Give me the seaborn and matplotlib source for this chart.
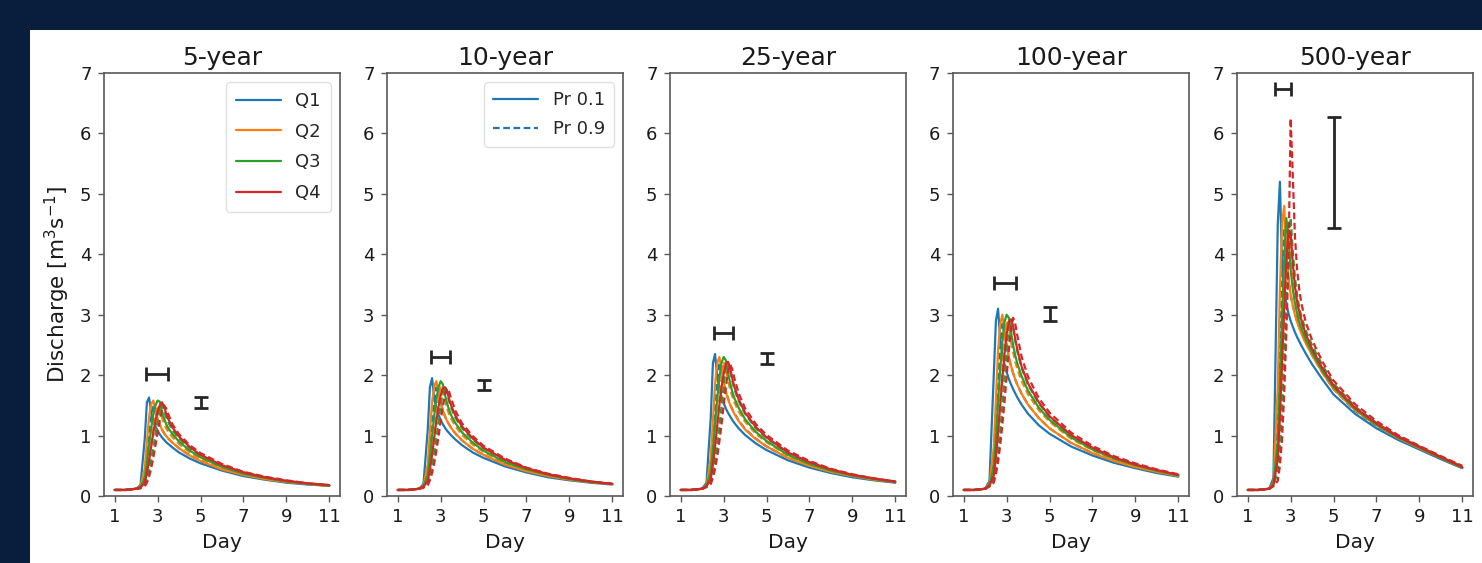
import numpy as np
import pandas as pd
import matplotlib
matplotlib.use("Agg")
import matplotlib.pyplot as plt
from matplotlib.lines import Line2D
from matplotlib.patches import Rectangle
import seaborn as sns

# ---------------------------------------------------------------- data
days = [1.0, 1.5, 2.0, 2.2, 2.4, 2.5, 2.6, 2.7, 2.8, 2.9, 3.0, 3.1, 3.2,
        3.3, 3.4, 3.5, 3.7, 4.0, 4.5, 5.0, 6.0, 7.0, 8.0, 9.0, 10.0, 11.0]

return_periods = ["5-year", "10-year", "25-year", "100-year", "500-year"]
quartiles = ["Q1", "Q2", "Q3", "Q4"]
probabilities = ["Pr 0.1", "Pr 0.9"]

# 5-year event
y5_q1_p1 = [.10, .10, .12, .18, .95, 1.55, 1.63, 1.38, 1.24, 1.15, 1.08, 1.02, .97, .93, .89, .86, .80, .72, .62, .54, .42, .33, .27, .22, .19, .17]
y5_q1_p9 = [.10, .10, .12, .14, .40, .75, 1.05, 1.30, 1.48, 1.40, 1.28, 1.18, 1.10, 1.04, .99, .95, .88, .79, .67, .58, .44, .35, .28, .23, .20, .17]
y5_q2_p1 = [.10, .10, .12, .16, .45, .90, 1.30, 1.52, 1.58, 1.42, 1.28, 1.18, 1.10, 1.04, .99, .95, .88, .79, .67, .58, .44, .35, .28, .23, .20, .17]
y5_q2_p9 = [.10, .10, .12, .13, .22, .40, .62, .88, 1.12, 1.35, 1.50, 1.42, 1.30, 1.20, 1.12, 1.06, .97, .86, .72, .62, .47, .37, .30, .24, .20, .17]
y5_q3_p1 = [.10, .10, .12, .15, .30, .55, .85, 1.12, 1.35, 1.50, 1.58, 1.56, 1.40, 1.28, 1.19, 1.12, 1.02, .90, .75, .64, .48, .37, .30, .24, .20, .17]
y5_q3_p9 = [.10, .10, .12, .13, .18, .28, .42, .60, .80, 1.02, 1.25, 1.45, 1.52, 1.42, 1.30, 1.22, 1.08, .95, .79, .67, .50, .39, .31, .25, .21, .18]
y5_q4_p1 = [.10, .10, .12, .14, .22, .38, .58, .82, 1.05, 1.25, 1.40, 1.50, 1.55, 1.48, 1.36, 1.27, 1.13, .98, .81, .68, .51, .39, .31, .25, .21, .18]
y5_q4_p9 = [.10, .10, .12, .13, .16, .22, .32, .46, .64, .84, 1.05, 1.25, 1.42, 1.50, 1.45, 1.35, 1.18, 1.02, .84, .71, .53, .40, .32, .26, .21, .18]

# 10-year event
y10_q1_p1 = [.10, .10, .12, .20, 1.10, 1.80, 1.95, 1.62, 1.45, 1.34, 1.26, 1.19, 1.13, 1.08, 1.04, 1.00, .93, .84, .72, .63, .49, .39, .31, .26, .22, .19]
y10_q1_p9 = [.10, .10, .12, .15, .45, .88, 1.25, 1.55, 1.80, 1.70, 1.54, 1.42, 1.32, 1.24, 1.18, 1.12, 1.03, .92, .78, .68, .52, .41, .33, .27, .23, .20]
y10_q2_p1 = [.10, .10, .12, .17, .52, 1.05, 1.55, 1.82, 1.90, 1.72, 1.54, 1.42, 1.32, 1.24, 1.18, 1.12, 1.03, .92, .78, .68, .52, .41, .33, .27, .23, .20]
y10_q2_p9 = [.10, .10, .12, .14, .25, .46, .72, 1.02, 1.32, 1.60, 1.82, 1.72, 1.57, 1.45, 1.35, 1.27, 1.15, 1.01, .85, .73, .55, .43, .34, .28, .23, .20]
y10_q3_p1 = [.10, .10, .12, .16, .35, .64, 1.00, 1.32, 1.60, 1.80, 1.90, 1.85, 1.68, 1.53, 1.42, 1.33, 1.20, 1.05, .88, .75, .56, .44, .35, .28, .23, .20]
y10_q3_p9 = [.10, .10, .12, .14, .20, .32, .49, .70, .95, 1.22, 1.50, 1.72, 1.82, 1.70, 1.56, 1.45, 1.29, 1.12, .93, .79, .59, .46, .36, .29, .24, .20]
y10_q4_p1 = [.10, .10, .12, .15, .25, .44, .68, .96, 1.24, 1.48, 1.66, 1.78, 1.80, 1.74, 1.60, 1.49, 1.32, 1.15, .95, .80, .60, .46, .36, .29, .24, .20]
y10_q4_p9 = [.10, .10, .12, .14, .18, .26, .38, .54, .75, .98, 1.24, 1.48, 1.68, 1.78, 1.72, 1.60, 1.40, 1.20, .99, .83, .62, .47, .37, .30, .24, .20]

# 25-year event
y25_q1_p1 = [.10, .10, .12, .22, 1.30, 2.20, 2.35, 1.98, 1.78, 1.64, 1.54, 1.45, 1.38, 1.32, 1.26, 1.21, 1.12, 1.01, .87, .76, .59, .47, .38, .31, .26, .22]
y25_q1_p9 = [.10, .10, .12, .16, .55, 1.05, 1.50, 1.88, 2.20, 2.08, 1.88, 1.74, 1.62, 1.52, 1.44, 1.37, 1.25, 1.11, .95, .82, .63, .50, .40, .33, .27, .23]
y25_q2_p1 = [.10, .10, .12, .18, .62, 1.25, 1.85, 2.20, 2.30, 2.10, 1.88, 1.73, 1.61, 1.51, 1.43, 1.36, 1.24, 1.10, .94, .82, .63, .50, .40, .33, .27, .23]
y25_q2_p9 = [.10, .10, .12, .15, .28, .54, .86, 1.22, 1.60, 1.95, 2.22, 2.10, 1.92, 1.77, 1.65, 1.55, 1.40, 1.23, 1.03, .89, .67, .53, .42, .34, .28, .23]
y25_q3_p1 = [.10, .10, .12, .17, .40, .76, 1.20, 1.60, 1.95, 2.20, 2.30, 2.25, 2.05, 1.87, 1.73, 1.62, 1.46, 1.27, 1.06, .91, .68, .53, .42, .34, .28, .23]
y25_q3_p9 = [.10, .10, .12, .15, .22, .37, .58, .84, 1.14, 1.48, 1.82, 2.10, 2.22, 2.08, 1.91, 1.77, 1.57, 1.36, 1.12, .96, .71, .55, .43, .35, .29, .24]
y25_q4_p1 = [.10, .10, .12, .16, .28, .52, .82, 1.16, 1.50, 1.80, 2.02, 2.18, 2.22, 2.12, 1.95, 1.81, 1.60, 1.38, 1.14, .97, .72, .56, .44, .35, .29, .24]
y25_q4_p9 = [.10, .10, .12, .15, .20, .30, .45, .65, .90, 1.18, 1.50, 1.80, 2.05, 2.18, 2.10, 1.95, 1.70, 1.45, 1.19, 1.01, .75, .58, .45, .36, .29, .24]

# 100-year event
y100_q1_p1 = [.10, .10, .12, .25, 2.00, 2.90, 3.10, 2.60, 2.35, 2.18, 2.05, 1.94, 1.85, 1.77, 1.70, 1.63, 1.51, 1.36, 1.17, 1.03, .82, .67, .55, .46, .38, .32]
y100_q1_p9 = [.10, .10, .12, .18, .70, 1.35, 1.95, 2.45, 2.85, 2.70, 2.48, 2.30, 2.15, 2.03, 1.93, 1.84, 1.69, 1.51, 1.29, 1.12, .88, .71, .58, .48, .40, .33]
y100_q2_p1 = [.10, .10, .12, .20, .80, 1.60, 2.40, 2.85, 3.00, 2.75, 2.50, 2.31, 2.16, 2.04, 1.93, 1.84, 1.69, 1.51, 1.29, 1.12, .88, .71, .58, .48, .40, .33]
y100_q2_p9 = [.10, .10, .12, .16, .35, .68, 1.10, 1.58, 2.08, 2.55, 2.90, 2.78, 2.56, 2.38, 2.23, 2.10, 1.90, 1.68, 1.42, 1.23, .95, .76, .61, .50, .41, .34]
y100_q3_p1 = [.10, .10, .12, .18, .50, .95, 1.55, 2.10, 2.55, 2.88, 3.00, 2.95, 2.72, 2.50, 2.33, 2.19, 1.98, 1.74, 1.46, 1.26, .97, .77, .62, .51, .42, .34]
y100_q3_p9 = [.10, .10, .12, .16, .26, .45, .72, 1.08, 1.48, 1.95, 2.40, 2.78, 2.92, 2.78, 2.57, 2.39, 2.12, 1.84, 1.53, 1.31, 1.00, .79, .64, .52, .42, .35]
y100_q4_p1 = [.10, .10, .12, .17, .34, .64, 1.05, 1.50, 1.95, 2.35, 2.68, 2.88, 2.92, 2.82, 2.60, 2.42, 2.14, 1.86, 1.55, 1.32, 1.01, .80, .64, .52, .43, .35]
y100_q4_p9 = [.10, .10, .12, .16, .22, .36, .56, .84, 1.18, 1.56, 1.98, 2.40, 2.75, 2.95, 2.85, 2.65, 2.30, 1.97, 1.62, 1.38, 1.05, .83, .66, .54, .44, .36]

# 500-year event
y500_q1_p1 = [.10, .10, .12, .30, 4.50, 5.20, 3.80, 3.40, 3.18, 3.02, 2.90, 2.80, 2.71, 2.63, 2.56, 2.49, 2.36, 2.18, 1.92, 1.68, 1.36, 1.12, .93, .77, .61, .46]
y500_q1_p9 = [.10, .10, .12, .20, 1.20, 2.30, 3.50, 4.40, 3.95, 3.58, 3.33, 3.15, 3.01, 2.89, 2.79, 2.70, 2.54, 2.33, 2.03, 1.77, 1.41, 1.16, .96, .79, .63, .47]
y500_q2_p1 = [.10, .10, .12, .22, 1.80, 3.40, 4.50, 4.80, 4.00, 3.60, 3.34, 3.15, 3.00, 2.88, 2.78, 2.69, 2.53, 2.33, 2.03, 1.77, 1.42, 1.17, .96, .79, .63, .47]
y500_q2_p9 = [.10, .10, .12, .18, .60, 1.20, 2.00, 2.90, 3.80, 4.50, 4.00, 3.60, 3.33, 3.14, 2.99, 2.86, 2.66, 2.43, 2.10, 1.83, 1.46, 1.19, .98, .81, .64, .48]
y500_q3_p1 = [.10, .10, .12, .20, .90, 1.90, 3.00, 3.90, 4.60, 4.25, 3.75, 3.42, 3.19, 3.02, 2.88, 2.77, 2.59, 2.37, 2.06, 1.80, 1.44, 1.18, .97, .80, .63, .47]
y500_q3_p9 = [.10, .10, .12, .17, .40, .80, 1.40, 2.20, 3.10, 3.90, 4.60, 4.05, 3.62, 3.33, 3.13, 2.97, 2.74, 2.49, 2.15, 1.86, 1.48, 1.21, .99, .82, .65, .49]
y500_q4_p1 = [.10, .10, .12, .18, .60, 1.30, 2.20, 3.10, 3.90, 4.40, 4.35, 3.85, 3.47, 3.22, 3.05, 2.91, 2.68, 2.43, 2.10, 1.83, 1.46, 1.20, .98, .81, .64, .48]
y500_q4_p9 = [.10, .10, .12, .16, .25, .50, .95, 1.70, 2.70, 3.90, 6.25, 5.30, 4.30, 3.75, 3.42, 3.19, 2.88, 2.58, 2.21, 1.91, 1.52, 1.24, 1.01, .83, .66, .50]

# spread of peak timing (horizontal bar) and peak discharge (vertical bar)
peak_time_lo = [2.47, 2.55, 2.55, 2.41, 2.27]
peak_time_hi = [3.48, 3.44, 3.44, 3.43, 3.02]
peak_time_y = [2.02, 2.30, 2.70, 3.52, 6.73]
peak_q_lo = [1.45, 1.76, 2.19, 2.90, 4.44]
peak_q_hi = [1.64, 1.92, 2.37, 3.12, 6.27]
peak_q_x = [5, 5, 5, 5, 5]

curves = {
    "5-year": [y5_q1_p1, y5_q1_p9, y5_q2_p1, y5_q2_p9, y5_q3_p1, y5_q3_p9, y5_q4_p1, y5_q4_p9],
    "10-year": [y10_q1_p1, y10_q1_p9, y10_q2_p1, y10_q2_p9, y10_q3_p1, y10_q3_p9, y10_q4_p1, y10_q4_p9],
    "25-year": [y25_q1_p1, y25_q1_p9, y25_q2_p1, y25_q2_p9, y25_q3_p1, y25_q3_p9, y25_q4_p1, y25_q4_p9],
    "100-year": [y100_q1_p1, y100_q1_p9, y100_q2_p1, y100_q2_p9, y100_q3_p1, y100_q3_p9, y100_q4_p1, y100_q4_p9],
    "500-year": [y500_q1_p1, y500_q1_p9, y500_q2_p1, y500_q2_p9, y500_q3_p1, y500_q3_p9, y500_q4_p1, y500_q4_p9],
}

rows = []
for rp in return_periods:
    series = curves[rp]
    k = 0
    for q in quartiles:
        for pr in probabilities:
            for d, v in zip(days, series[k]):
                rows.append((rp, q, pr, d, v))
            k += 1
df = pd.DataFrame(rows, columns=["Event", "Quartile", "Pr", "Day", "Discharge"])

# ---------------------------------------------------------------- style
sns.set_theme(style="ticks")
plt.rcParams["font.family"] = ["DejaVu Sans"]
plt.rcParams["axes.edgecolor"] = "0.35"
plt.rcParams["xtick.color"] = "0.35"
plt.rcParams["ytick.color"] = "0.35"
plt.rcParams["xtick.labelcolor"] = "0.1"
plt.rcParams["ytick.labelcolor"] = "0.1"

palette = dict(zip(quartiles, ["#1f77b4", "#ff7f0e", "#2ca02c", "#d62728"]))
dash_map = {"Pr 0.1": "", "Pr 0.9": (3, 1.6)}

W, H = 1482, 563
fig = plt.figure(figsize=(W / 100, H / 100), dpi=100)
fig.patch.set_facecolor("#081e3c")
# white canvas inside the dark frame, drawn beneath the panels
fig.patches.append(Rectangle((30 / W, 0), 1 - 30 / W, (H - 30) / H,
                             transform=fig.transFigure, facecolor="white",
                             edgecolor="none", zorder=-10))

lefts = [104, 387, 670, 953, 1237]
ax_w, ax_bottom, ax_top = 236, 496, 73

for i, rp in enumerate(return_periods):
    ax = fig.add_axes([lefts[i] / W, (H - ax_bottom) / H,
                       ax_w / W, (ax_bottom - ax_top) / H])
    sub = df[df["Event"] == rp]
    sns.lineplot(data=sub, x="Day", y="Discharge", hue="Quartile", style="Pr",
                 hue_order=quartiles, style_order=probabilities,
                 palette=palette, dashes=dash_map, estimator=None,
                 legend=False, lw=1.6, ax=ax)
    ax.errorbar((peak_time_lo[i] + peak_time_hi[i]) / 2, peak_time_y[i],
                xerr=(peak_time_hi[i] - peak_time_lo[i]) / 2,
                color="0.15", lw=2, capsize=5, capthick=2)
    ax.errorbar(peak_q_x[i], (peak_q_lo[i] + peak_q_hi[i]) / 2,
                yerr=(peak_q_hi[i] - peak_q_lo[i]) / 2,
                color="0.15", lw=2, capsize=5, capthick=2)

    ax.set_xlim(0.5, 11.5)
    ax.set_ylim(0, 7)
    ax.set_xticks([1, 3, 5, 7, 9, 11])
    ax.set_yticks(range(8))
    ax.tick_params(labelsize=13, length=4, width=1, pad=5)
    ax.set_title(rp, fontsize=18, pad=6, color="0.1")
    ax.set_xlabel("Day", fontsize=14.5, color="0.1", labelpad=5)
    if i == 0:
        ax.set_ylabel(r"Discharge [m$^3$s$^{-1}$]", fontsize=15.5,
                      color="0.1", labelpad=6)
    else:
        ax.set_ylabel("")
    for sp in ax.spines.values():
        sp.set_linewidth(1.2)

    if i == 0:
        handles = [Line2D([], [], color=palette[q], lw=1.6) for q in quartiles]
        ax.legend(handles, quartiles, loc="upper right", fontsize=13,
                  handlelength=2.5, labelspacing=0.7, borderpad=0.55,
                  frameon=True, edgecolor="0.85")
    elif i == 1:
        handles = [Line2D([], [], color=palette["Q1"], lw=1.6),
                   Line2D([], [], color=palette["Q1"], lw=1.6, dashes=(3, 1.6))]
        ax.legend(handles, probabilities, loc="upper right", fontsize=13,
                  handlelength=2.5, labelspacing=0.6, borderpad=0.5,
                  frameon=True, edgecolor="0.85")

fig.savefig("out.png", dpi=100, facecolor=fig.get_facecolor())
